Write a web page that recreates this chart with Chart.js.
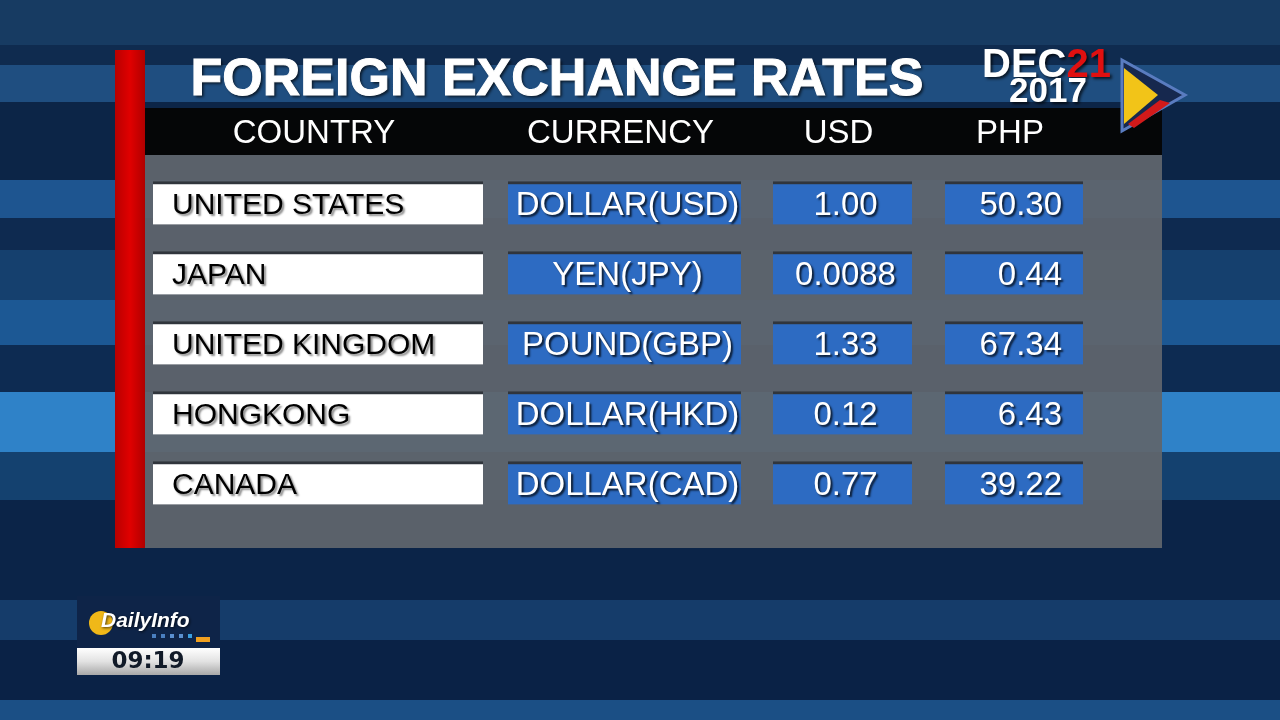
<!DOCTYPE html>
<html>
<head>
<meta charset="utf-8">
<title>Foreign Exchange Rates</title>
<script src="https://cdn.jsdelivr.net/npm/chart.js@4.4.0/dist/chart.umd.min.js"></script>
<style>
    html, body { margin: 0; padding: 0; background: #0c2446; overflow: hidden; }
    #wrap { width: 1280px; height: 720px; position: relative; }
</style>
</head>
<body>
<div id="wrap"><canvas id="fxChart"></canvas></div>
<script>
// Datos de la tabla
const columnHeaders = ['COUNTRY', 'CURRENCY', 'USD', 'PHP'];
const countries = ['UNITED STATES', 'JAPAN', 'UNITED KINGDOM', 'HONGKONG', 'CANADA'];
const currencies = ['DOLLAR(USD)', 'YEN(JPY)', 'POUND(GBP)', 'DOLLAR(HKD)', 'DOLLAR(CAD)'];
const usdRates = [1.00, 0.0088, 1.33, 0.12, 0.77];
const phpRates = [50.30, 0.44, 67.34, 6.43, 39.22];
const titleText = 'FOREIGN EXCHANGE RATES';
const dateMonth = 'DEC';
const dateDay = '21';
const dateYear = '2017';
const clockText = '09:19';

// Layout de columnas (en unidades del eje x, 0..1280)
const colSpans = [[153, 483], [508, 741], [773, 912], [945, 1083]];

const colors = {
    white: '#ffffff',
    blue: '#2d6bc2',
    edge: '#30353c',
    panel: 'rgba(96,101,108,0.94)',
    header: '#050607',
    red: '#d00000'
};

function fmtRate(v) {
    return v < 0.01 ? v.toFixed(4) : v.toFixed(2);
}

const cellTexts = [
    countries,
    currencies,
    usdRates.map(fmtRate),
    phpRates.map(fmtRate)
];

// Fondo, título, cabecera y logos
const backdropPlugin = {
    id: 'backdrop',
    beforeDraw(chart) {
        const ctx = chart.ctx;
        ctx.save();
        const stripes = [
            [0, 45, '#173b62'], [45, 65, '#0f2b4f'], [65, 102, '#1f4e80'],
            [102, 180, '#0c2547'], [180, 218, '#1e5590'], [218, 250, '#0e2a50'],
            [250, 300, '#15406e'], [300, 345, '#1c5894'], [345, 392, '#0d2b52'],
            [392, 452, '#2f82c8'], [452, 500, '#14416f'], [500, 600, '#0b2448'],
            [600, 640, '#153c6a'], [640, 700, '#0a2246'], [700, 720, '#1b4f85']
        ];
        stripes.forEach(s => {
            ctx.fillStyle = s[2];
            ctx.fillRect(0, s[0], 1280, s[1] - s[0]);
        });

        // panel gris y cabecera negra
        ctx.fillStyle = colors.panel;
        ctx.fillRect(145, 155, 1017, 393);
        ctx.fillStyle = colors.header;
        ctx.fillRect(145, 108, 1017, 47);

        // barra roja
        const rg = ctx.createLinearGradient(115, 0, 145, 0);
        rg.addColorStop(0, '#b80000');
        rg.addColorStop(0.5, '#e00000');
        rg.addColorStop(1, '#b00000');
        ctx.fillStyle = rg;
        ctx.fillRect(115, 50, 30, 498);

        // título
        ctx.shadowColor = 'rgba(0,0,0,0.7)';
        ctx.shadowOffsetX = 2;
        ctx.shadowOffsetY = 2;
        ctx.shadowBlur = 3;
        ctx.fillStyle = '#ffffff';
        ctx.strokeStyle = '#ffffff';
        ctx.lineWidth = 1;
        ctx.font = 'bold 52px "Liberation Sans", Arial, sans-serif';
        ctx.textAlign = 'center';
        ctx.textBaseline = 'alphabetic';
        ctx.fillText(titleText, 557, 95);
        ctx.shadowColor = 'transparent';
        ctx.strokeText(titleText, 557, 95);
        ctx.shadowColor = 'rgba(0,0,0,0.7)';

        // fecha
        ctx.font = 'bold 40px "Liberation Sans", Arial, sans-serif';
        ctx.textAlign = 'left';
        ctx.fillText(dateMonth, 982, 77);
        const mw = ctx.measureText(dateMonth).width;
        ctx.fillStyle = '#e01010';
        ctx.fillText(dateDay, 982 + mw, 77);
        ctx.fillStyle = '#ffffff';
        ctx.font = 'bold 35px "Liberation Sans", Arial, sans-serif';
        ctx.fillText(dateYear, 1009, 102);
        ctx.shadowColor = 'transparent';

        // logo triangular
        ctx.beginPath();
        ctx.moveTo(1122, 60); ctx.lineTo(1185, 95); ctx.lineTo(1122, 131); ctx.closePath();
        ctx.fillStyle = '#16284e';
        ctx.fill();
        ctx.lineWidth = 3;
        ctx.strokeStyle = '#5a7cc0';
        ctx.stroke();
        ctx.beginPath();
        ctx.moveTo(1124, 68); ctx.lineTo(1158, 95); ctx.lineTo(1124, 124); ctx.closePath();
        ctx.fillStyle = '#f2c418';
        ctx.fill();
        ctx.beginPath();
        ctx.moveTo(1128, 124); ctx.lineTo(1160, 100); ctx.lineTo(1170, 103); ctx.lineTo(1134, 128); ctx.closePath();
        ctx.fillStyle = '#d21a1a';
        ctx.fill();

        // cabeceras de columna
        ctx.fillStyle = '#ffffff';
        ctx.font = '33px "Liberation Sans", Arial, sans-serif';
        ctx.textAlign = 'center';
        ctx.textBaseline = 'middle';
        const xs = chart.scales.x;
        columnHeaders.forEach((h, i) => {
            const cx = xs.getPixelForValue((colSpans[i][0] + colSpans[i][1]) / 2);
            ctx.fillText(h, cx - 4, 134);
        });

        // caja DailyInfo + reloj
        ctx.fillStyle = '#0e2448';
        ctx.fillRect(77, 596, 143, 52);
        ctx.beginPath();
        ctx.arc(101, 623, 12, 0, Math.PI * 2);
        ctx.fillStyle = '#f0b818';
        ctx.fill();
        ctx.font = 'italic bold 21px "Liberation Sans", Arial, sans-serif';
        ctx.textAlign = 'left';
        ctx.fillStyle = '#ffffff';
        ctx.shadowColor = 'rgba(0,0,0,0.7)';
        ctx.shadowOffsetX = 1; ctx.shadowOffsetY = 1;
        ctx.fillText('DailyInfo', 101, 621);
        ctx.shadowColor = 'transparent';
        ['#4a7fc0', '#4a7fc0', '#5a90d0', '#5a90d0', '#3a9fe0'].forEach((c, i) => {
            ctx.fillStyle = c;
            ctx.fillRect(152 + i * 9, 634, 4, 4);
        });
        ctx.fillStyle = '#f0a020';
        ctx.fillRect(196, 637, 14, 5);
        const sg = ctx.createLinearGradient(0, 648, 0, 675);
        sg.addColorStop(0, '#ffffff');
        sg.addColorStop(0.5, '#e2e2e2');
        sg.addColorStop(1, '#a8a8a8');
        ctx.fillStyle = sg;
        ctx.fillRect(77, 648, 143, 27);
        ctx.fillStyle = '#111a28';
        ctx.font = 'bold 23px "DejaVu Sans", sans-serif';
        ctx.textAlign = 'center';
        ctx.fillText(clockText, 148, 662);
        ctx.restore();
    }
};

// Textos dentro de las celdas
const cellTextPlugin = {
    id: 'cellText',
    afterDatasetsDraw(chart) {
        const ctx = chart.ctx;
        ctx.save();
        ctx.textBaseline = 'middle';
        chart.data.datasets.forEach((ds, di) => {
            const meta = chart.getDatasetMeta(di);
            meta.data.forEach((bar, i) => {
                const left = Math.min(bar.x, bar.base);
                const right = Math.max(bar.x, bar.base);
                const cy = bar.y + 3;
                const txt = cellTexts[di][i];
                ctx.shadowOffsetX = 2;
                ctx.shadowOffsetY = 2;
                ctx.shadowBlur = 2;
                if (di === 0) {
                    ctx.font = '30px "Liberation Sans", Arial, sans-serif';
                    ctx.fillStyle = '#000000';
                    ctx.shadowColor = 'rgba(0,0,0,0.45)';
                    ctx.textAlign = 'left';
                    ctx.fillText(txt, left + 19, cy);
                } else {
                    ctx.font = '33px "Liberation Sans", Arial, sans-serif';
                    ctx.fillStyle = '#ffffff';
                    ctx.shadowColor = 'rgba(0,0,0,0.75)';
                    if (di === 3) {
                        ctx.textAlign = 'right';
                        ctx.fillText(txt, right - 21, cy);
                    } else {
                        ctx.textAlign = 'center';
                        ctx.fillText(txt, (left + right) / 2 + 3, cy);
                    }
                }
            });
        });
        ctx.restore();
    }
};

function createFxChart() {
    const ctx = document.getElementById('fxChart').getContext('2d');
    const fills = [colors.white, colors.blue, colors.blue, colors.blue];
    const datasets = colSpans.map((span, c) => ({
        label: columnHeaders[c],
        data: countries.map(() => [span[0], span[1]]),
        backgroundColor: fills[c],
        borderColor: colors.edge,
        borderWidth: { top: 3, left: 0, right: 0, bottom: 0 },
        borderSkipped: false,
        barThickness: 43,
        grouped: false
    }));
    return new Chart(ctx, {
        type: 'bar',
        data: { labels: countries, datasets: datasets },
        plugins: [backdropPlugin, cellTextPlugin],
        options: {
            indexAxis: 'y',
            responsive: true,
            maintainAspectRatio: false,
            animation: false,
            layout: { padding: { top: 168, bottom: 202, left: 0, right: 0 } },
            plugins: {
                legend: { display: false },
                tooltip: { enabled: false }
            },
            scales: {
                x: { type: 'linear', min: 0, max: 1280, display: false },
                y: { type: 'category', display: false, offset: true }
            }
        }
    });
}

document.addEventListener('DOMContentLoaded', function() {
    createFxChart();
});
</script>
</body>
</html>
